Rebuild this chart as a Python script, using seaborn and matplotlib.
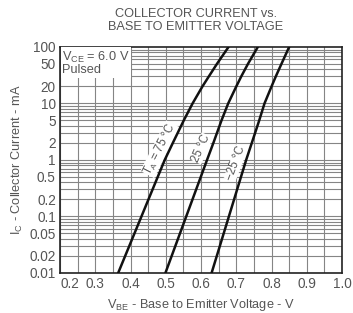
import numpy as np
import pandas as pd
import matplotlib
matplotlib.use("Agg")
import matplotlib.pyplot as plt
import seaborn as sns
from matplotlib.ticker import FixedLocator, FixedFormatter, NullFormatter

# --- data ---
ic_ma = [0.01, 0.1, 1, 2, 5, 10, 20, 30, 50, 100]
vbe_75 = [0.365, 0.431, 0.497, 0.520, 0.551, 0.576, 0.604, 0.622, 0.645, 0.678]
vbe_25 = [0.499, 0.558, 0.617, 0.635, 0.658, 0.677, 0.700, 0.714, 0.733, 0.761]
vbe_m25 = [0.630, 0.679, 0.728, 0.744, 0.765, 0.780, 0.800, 0.812, 0.828, 0.850]
temps = ["75", "25", "-25"]

ytick_vals = [0.01, 0.02, 0.05, 0.1, 0.2, 0.5, 1, 2, 5, 10, 20, 50, 100]
ytick_labels = ["0.01", "0.02", "0.05", "0.1", "0.2", "0.5", "1", "2", "5",
                "10", "20", "50", "100"]
xtick_vals = [0.2, 0.3, 0.4, 0.5, 0.6, 0.7, 0.8, 0.9, 1.0]
xtick_labels = ["0.2", "0.3", "0.4", "0.5", "0.6", "0.7", "0.8", "0.9", "1.0"]

df = pd.concat([
    pd.DataFrame({"vbe": v, "ic": ic_ma, "temp": t})
    for v, t in zip([vbe_75, vbe_25, vbe_m25], temps)
])

sns.set_style("white")
plt.rcParams["font.family"] = ["Liberation Sans", "DejaVu Sans"]
txt = "#555555"

fig = plt.figure(figsize=(3.53, 3.13), dpi=100)
ax = fig.add_axes([0.170, 0.128, 0.799, 0.722])

# grid: every 0.05 V and every log minor step
for xv in np.arange(0.2, 1.0001, 0.05):
    ax.axvline(xv, color="#858585", lw=0.8, zorder=0)
for dec in [0.01, 0.1, 1, 10]:
    for m in range(1, 10):
        ax.axhline(dec * m, color="#858585", lw=0.8, zorder=0)

sns.lineplot(data=df, x="vbe", y="ic", hue="temp", palette=["#111111"] * 3,
             sort=False, estimator=None, lw=1.8, legend=False, ax=ax, zorder=3)

ax.set_yscale("log")
ax.set_xlim(0.2, 1.0)
ax.set_ylim(0.01, 100)
ax.yaxis.set_major_locator(FixedLocator(ytick_vals))
ax.yaxis.set_major_formatter(FixedFormatter(ytick_labels))
ax.yaxis.set_minor_formatter(NullFormatter())
ax.xaxis.set_major_locator(FixedLocator(xtick_vals))
ax.xaxis.set_major_formatter(FixedFormatter(xtick_labels))
ax.tick_params(axis="both", length=0, labelsize=9.8, labelcolor=txt, pad=3)
ax.tick_params(axis="y", which="minor", length=0)
for lbl in ax.get_xticklabels():
    if lbl.get_text() == "0.2":
        lbl.set_horizontalalignment("left")
for s in ax.spines.values():
    s.set_color("#222222")
    s.set_linewidth(1.2)

ax.set_xlabel("V$_{\\mathregular{BE}}$ - Base to Emitter Voltage - V",
              fontsize=9.2, color=txt, labelpad=4)
ax.set_ylabel("I$_{\\mathregular{C}}$ - Collector Current - mA",
              fontsize=9.2, color=txt, labelpad=3)
fig.text(0.555, 0.975, "COLLECTOR CURRENT vs.\nBASE TO EMITTER VOLTAGE",
         ha="center", va="top", fontsize=9.2, color=txt, linespacing=1.1)

# condition box top-left
ax.text(0.008, 0.988, "V$_{\\mathregular{CE}}$ = 6.0 V\nPulsed",
        transform=ax.transAxes, ha="left", va="top", fontsize=9.2, color=txt,
        linespacing=0.95, zorder=5,
        bbox=dict(facecolor="white", edgecolor="none", pad=1.0))

# curve labels, sitting just left of each curve
box = dict(facecolor="white", edgecolor="none", pad=0.2)
ax.text(0.484, 1.55, "T$_{\\mathregular{A}}$ = 75 °C", rotation=63, fontsize=8.3,
        color=txt, ha="center", va="center", bbox=box, zorder=2)
ax.text(0.601, 1.6, "25 °C", rotation=66, fontsize=8.3, color=txt,
        ha="center", va="center", bbox=box, zorder=2)
ax.text(0.699, 0.89, "−25 °C", rotation=69, fontsize=8.3, color=txt,
        ha="center", va="center", bbox=box, zorder=2)

fig.savefig("out.png", dpi=100)
